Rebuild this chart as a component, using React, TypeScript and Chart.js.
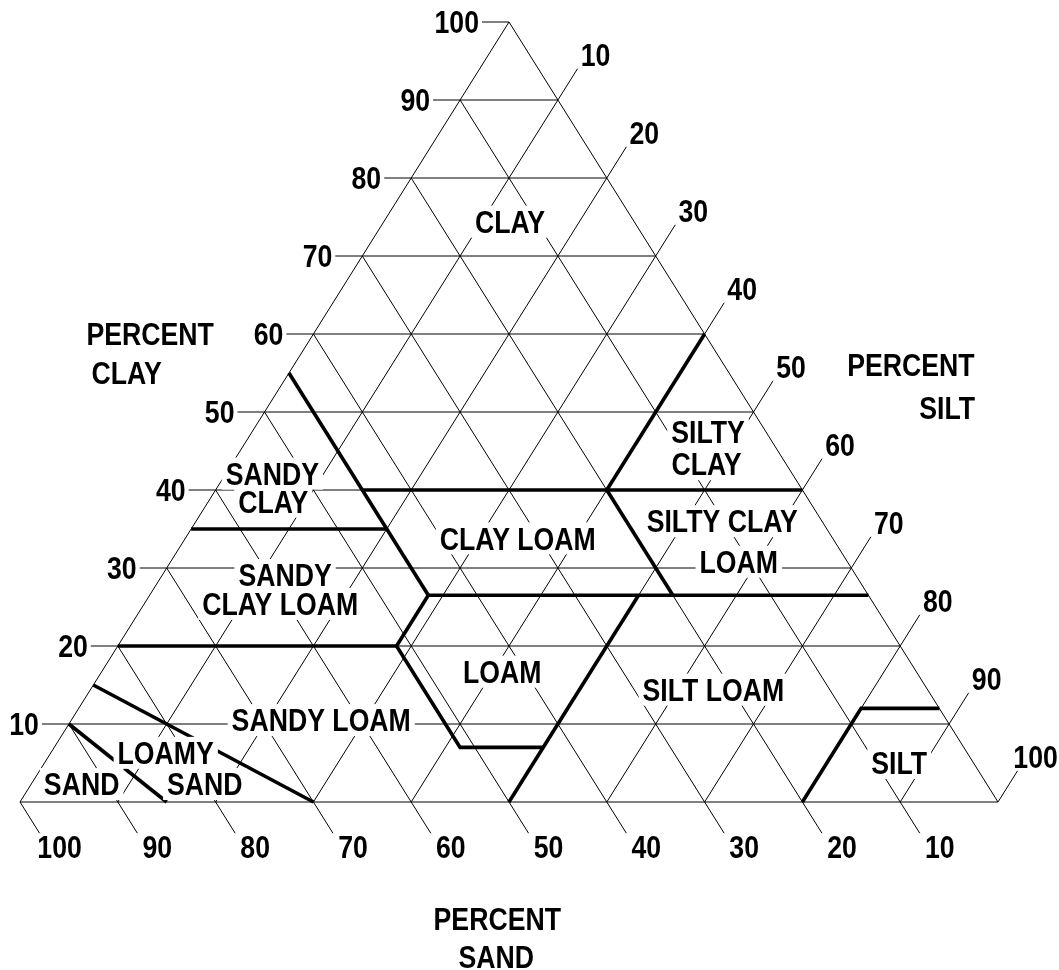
import React, { useEffect, useRef } from "react";
import { Chart, registerables } from "chart.js";

Chart.register(...registerables);

// ---- data (ternary compositions: [sand, silt, clay]) ----
const GRID_STEPS = [10, 20, 30, 40, 50, 60, 70, 80, 90];
const AXIS_TICKS = [10, 20, 30, 40, 50, 60, 70, 80, 90, 100];

const siltyClayBoundary = [[0, 40, 60], [20, 40, 40]];
const clay40Boundary = [[45, 15, 40], [0, 60, 40]];
const sand45Boundary = [[45, 0, 55], [45, 28.5, 26.5]];
const sandyClayBottom = [[65, 0, 35], [45, 20, 35]];
const clay27Boundary = [[45, 28.5, 26.5], [0, 73.5, 26.5]];
const siltyClayLoamBoundary = [[20, 40, 40], [20, 53.5, 26.5]];
const loamLeftBoundary = [[45, 28.5, 26.5], [51.5, 28.5, 20], [51.5, 41.5, 7], [43, 50, 7]];
const siltLoamBoundary = [[23.5, 50, 26.5], [50, 50, 0]];
const sandyClayLoamBottom = [[80, 0, 20], [51.5, 28.5, 20]];
const loamySandBoundary = [[85, 0, 15], [70, 30, 0]];
const sandBoundary = [[90, 0, 10], [85, 15, 0]];
const siltBoundary = [[20, 80, 0], [8, 80, 12], [0, 88, 12]];

const boundaries = [
  siltyClayBoundary, clay40Boundary, sand45Boundary, sandyClayBottom, clay27Boundary,
  siltyClayLoamBoundary, loamLeftBoundary, siltLoamBoundary, sandyClayLoamBottom,
  loamySandBoundary, sandBoundary, siltBoundary,
];

// region names and their anchor (x = silt + clay/2, y = clay)
const regionNames = [
  "CLAY", "SILTY", "CLAY", "SILTY CLAY", "LOAM", "CLAY LOAM", "SANDY", "CLAY",
  "SANDY", "CLAY LOAM", "SANDY LOAM", "LOAMY", "SAND", "SAND", "LOAM", "SILT LOAM", "SILT",
];
const regionAnchors = [
  [50.1, 74.4], [70.35, 47.4], [70.2, 43.3], [71.8, 36.0], [73.5, 30.8], [50.9, 33.8],
  [25.8, 42.1], [25.9, 38.5], [27.1, 29.1], [26.6, 25.4], [30.8, 10.5], [14.9, 6.3],
  [18.9, 2.3], [6.3, 2.3], [49.3, 16.7], [70.9, 14.4], [89.9, 5.0],
];
const axisTitles = ["PERCENT", "CLAY", "PERCENT", "SILT", "PERCENT", "SAND"];
const axisTitleAnchors = [
  [13.3, 60.0], [10.9, 55.0], [91.1, 56.0], [94.8, 50.6], [48.8, -15.0], [48.7, -19.9],
];

// ---- helpers ----
const toXY = (p: number[]) => ({ x: p[1] + p[2] / 2, y: p[2] });
const TICK_X = 2.76;
const TICK_EXT = 4;

const FONT = "bold 31px 'Liberation Sans', Arial, sans-serif";
const SX = 0.86;

function drawText(ctx: CanvasRenderingContext2D, text: string, cx: number, cy: number, align: "center" | "right", bg: boolean) {
  ctx.save();
  ctx.font = FONT;
  const w = ctx.measureText(text).width * SX;
  const left = align === "center" ? cx - w / 2 : cx - w;
  if (bg) {
    ctx.fillStyle = "#ffffff";
    ctx.fillRect(left - 4, cy - 16, w + 8, 32);
  }
  ctx.translate(left, cy + 11.2);
  ctx.scale(SX, 1);
  ctx.fillStyle = "#000000";
  ctx.textAlign = "left";
  ctx.textBaseline = "alphabetic";
  ctx.fillText(text, 0, 0);
  ctx.restore();
}

const labelPlugin = {
  id: "triangleLabels",
  beforeDraw(chart: any) {
    const ctx = chart.ctx;
    ctx.save();
    ctx.fillStyle = "#ffffff";
    ctx.fillRect(0, 0, chart.width, chart.height);
    ctx.restore();
  },
  afterDatasetsDraw(chart: any) {
    const ctx = chart.ctx as CanvasRenderingContext2D;
    const xs = chart.scales.x;
    const ys = chart.scales.y;
    const px = (x: number) => xs.getPixelForValue(x);
    const py = (y: number) => ys.getPixelForValue(y);

    regionNames.forEach((t, i) => {
      drawText(ctx, t, px(regionAnchors[i][0]), py(regionAnchors[i][1]), "center", true);
    });
    axisTitles.forEach((t, i) => {
      drawText(ctx, t, px(axisTitleAnchors[i][0]), py(axisTitleAnchors[i][1]), "center", false);
    });
    // clay labels (left)
    AXIS_TICKS.forEach((c) => {
      drawText(ctx, String(c), px(c / 2) - 30, py(c), "right", false);
    });
    // silt labels (right)
    AXIS_TICKS.forEach((s) => {
      const e = toXY([-TICK_EXT, s, 100 - s + TICK_EXT]);
      drawText(ctx, String(s), px(e.x) + 18, py(e.y) - 14, "center", false);
    });
    // sand labels (bottom)
    AXIS_TICKS.forEach((a) => {
      const e = toXY([a, 100 - a + TICK_EXT, -TICK_EXT]);
      drawText(ctx, String(a), px(e.x) + 20, py(e.y) + 14, "center", false);
    });
  },
};

function lineDs(points: { x: number; y: number }[], width: number) {
  return {
    data: points,
    showLine: true,
    pointRadius: 0,
    pointHoverRadius: 0,
    borderColor: "#000000",
    backgroundColor: "#000000",
    borderWidth: width,
    fill: false,
    tension: 0,
  };
}

export default function App() {
  const ref = useRef<HTMLCanvasElement | null>(null);

  useEffect(() => {
    if (!ref.current) return;
    const datasets: any[] = [];
    // triangle
    datasets.push(lineDs([[100, 0, 0], [0, 100, 0], [0, 0, 100], [100, 0, 0]].map(toXY), 1));
    // grid
    GRID_STEPS.forEach((g) => {
      datasets.push(lineDs([[100 - g, 0, g], [0, 100 - g, g]].map(toXY), 1));
      datasets.push(lineDs([[100 - g, g, 0], [0, g, 100 - g]].map(toXY), 1));
      datasets.push(lineDs([[g, 100 - g, 0], [g, 0, 100 - g]].map(toXY), 1));
    });
    // ticks
    AXIS_TICKS.forEach((v) => {
      datasets.push(lineDs([{ x: v / 2 - TICK_X, y: v }, { x: v / 2, y: v }], 1));
      datasets.push(lineDs([[0, v, 100 - v], [-TICK_EXT, v, 100 - v + TICK_EXT]].map(toXY), 1));
      datasets.push(lineDs([[v, 100 - v, 0], [v, 100 - v + TICK_EXT, -TICK_EXT]].map(toXY), 1));
    });
    // texture boundaries
    boundaries.forEach((b) => datasets.push(lineDs(b.map(toXY), 3.6)));

    const chart = new Chart(ref.current, {
      type: "scatter",
      data: { datasets },
      plugins: [labelPlugin],
      options: {
        animation: false,
        responsive: false,
        events: [],
        layout: { padding: 0, autoPadding: false },
        plugins: { legend: { display: false }, tooltip: { enabled: false } },
        scales: {
          x: { type: "linear", min: -20 / 9.78, max: 1039 / 9.78, display: false },
          y: { type: "linear", min: -168 / 7.8, max: 802 / 7.8, display: false },
        },
      },
    } as any);
    return () => chart.destroy();
  }, []);

  return (
    <div style={{ position: "fixed", left: 0, top: 0, width: 1059, height: 970, background: "#fff" }}>
      <canvas ref={ref} width={1059} height={970} style={{ display: "block" }} />
    </div>
  );
}
